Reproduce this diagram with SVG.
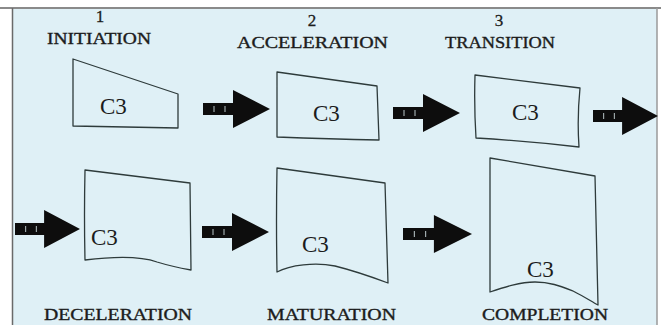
<svg xmlns="http://www.w3.org/2000/svg" xmlns:xlink="http://www.w3.org/1999/xlink" width="661" height="325" viewBox="0 0 661 325">
<style>
.box{fill:none;stroke:#2e3b3b;stroke-width:1.3;stroke-linejoin:round}
.lbl{font-family:"Liberation Serif","DejaVu Serif",serif;font-size:16px;fill:#1c1c1c;stroke:#1c1c1c;stroke-width:0.35;text-anchor:start}
.num{font-family:"Liberation Serif","DejaVu Serif",serif;font-size:17px;fill:#1c1c1c;stroke:#1c1c1c;stroke-width:0.3;text-anchor:middle}
.c3{font-family:"Liberation Serif","DejaVu Serif",serif;font-size:23px;fill:#1c1c1c}
.arr{fill:#0d0d0d}
.tick{stroke:#b9c6c8;stroke-width:1}
</style>
<defs>
<g id="arrow">
<path class="arr" d="M0,-6 H30 V-19 L67,0 L30,19 V6 H0 Z"/>
<line class="tick" x1="11" y1="-3" x2="11" y2="3"/>
<line class="tick" x1="22" y1="-3" x2="22" y2="3"/>
</g>
</defs>
<rect x="0" y="0" width="661" height="325" fill="#ffffff"/>
<rect x="12" y="8" width="645" height="320" fill="#dff0f6"/>
<line x1="0" y1="8" x2="661" y2="8" stroke="#8a8a8a" stroke-width="2"/>
<line x1="12.5" y1="8" x2="12.5" y2="325" stroke="#6a6a6a" stroke-width="1.5"/>
<line x1="657" y1="8" x2="657" y2="325" stroke="#9a9a9a" stroke-width="1.5"/>

<g id="connectors">
<use xlink:href="#arrow" transform="translate(203,109)"/>
<use xlink:href="#arrow" transform="translate(393,113)"/>
<use xlink:href="#arrow" transform="translate(593,116) scale(0.97,1)"/>
<use xlink:href="#arrow" transform="translate(15,229) scale(0.97,1)"/>
<use xlink:href="#arrow" transform="translate(202,232)"/>
<use xlink:href="#arrow" transform="translate(403,234) scale(1.03,1)"/>
</g>

<g id="initiation">
<text class="num" x="100" y="22">1</text>
<text class="lbl" x="47" y="44" textLength="104" lengthAdjust="spacingAndGlyphs">INITIATION</text>
<path class="box" d="M73,59 L178,94 L178,128 L73,126 Z"/>
<text class="c3" x="100" y="114">C3</text>
</g>

<g id="acceleration">
<text class="num" x="312" y="26">2</text>
<text class="lbl" x="237" y="48" textLength="151" lengthAdjust="spacingAndGlyphs">ACCELERATION</text>
<path class="box" d="M277,72 L377,86 L379,140 Q330,139 277,137 Z"/>
<text class="c3" x="313" y="121">C3</text>
</g>

<g id="transition">
<text class="num" x="499" y="26">3</text>
<text class="lbl" x="445" y="48" textLength="110" lengthAdjust="spacingAndGlyphs">TRANSITION</text>
<path class="box" d="M475,75 L580,88 Q577,118 579,147 Q527,141 476,138 Q474,106 475,75 Z"/>
<text class="c3" x="512" y="120">C3</text>
</g>

<g id="deceleration">
<path class="box" d="M85,170 L190,183 L191,270 C180,268 170,266 157,262 C140,256 110,257 85,260 Q84,215 85,170 Z"/>
<text class="c3" x="91" y="245">C3</text>
<text class="lbl" x="44" y="320" textLength="148" lengthAdjust="spacingAndGlyphs">DECELERATION</text>
</g>

<g id="maturation">
<path class="box" d="M277,168 L385,183 L388,283 C372,277 355,271 335,266 C315,262 290,265 277,272 Q276,220 277,168 Z"/>
<text class="c3" x="302" y="252">C3</text>
<text class="lbl" x="267" y="320" textLength="129" lengthAdjust="spacingAndGlyphs">MATURATION</text>
</g>

<g id="completion">
<path class="box" d="M490,158 L595,176 L598,305 C592,302 585,297 573,291 C560,286 550,282 535,282 C520,282 505,287 490,292 Z"/>
<text class="c3" x="527" y="277">C3</text>
<text class="lbl" x="482" y="320" textLength="126" lengthAdjust="spacingAndGlyphs">COMPLETION</text>
</g>
</svg>
